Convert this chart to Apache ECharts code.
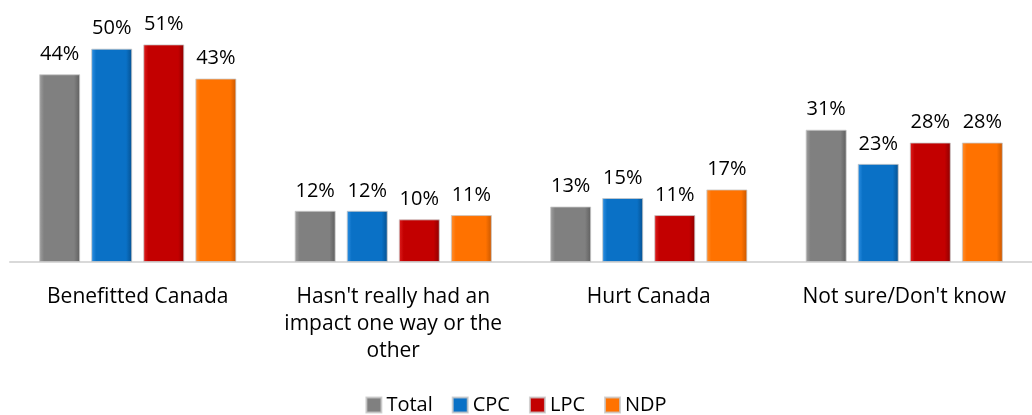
<!DOCTYPE html>
<html>
<head>
<meta charset="utf-8">
<script src="https://cdn.jsdelivr.net/npm/echarts@6/dist/echarts.min.js"></script>
<style>
  html, body { margin: 0; padding: 0; background: #fff; }
  #chart { width: 1032px; height: 415px; }
</style>
</head>
<body>
<div id="chart"></div>
<script>
// Survey responses by party
const categories = [
  'Benefitted Canada',
  "Hasn't really had an\nimpact one way or the\nother",
  'Hurt Canada',
  "Not sure/Don't know"
];
const seriesNames = ['Total', 'CPC', 'LPC', 'NDP'];
const totalValues = [44, 12, 13, 31];
const cpcValues = [50, 12, 15, 23];
const lpcValues = [51, 10, 11, 28];
const ndpValues = [43, 11, 17, 28];

const FONT = '"Open Sans", "Noto Sans", sans-serif';

// light / base / dark shades for a bevelled look
const palette = {
  Total: ['#a2a2a2', '#808080', '#5e5e5e'],
  CPC:   ['#2f92e6', '#0a71c6', '#05508f'],
  LPC:   ['#e02020', '#c30000', '#8c0000'],
  NDP:   ['#ff9133', '#ff7200', '#c85700']
};

function bevel(name) {
  const c = palette[name];
  return new echarts.graphic.LinearGradient(0, 0, 1, 0, [
    { offset: 0, color: c[0] },
    { offset: 0.12, color: c[1] },
    { offset: 0.85, color: c[1] },
    { offset: 1, color: c[2] }
  ]);
}

const valuesByName = { Total: totalValues, CPC: cpcValues, LPC: lpcValues, NDP: ndpValues };

const series = seriesNames.map(name => ({
  name: name,
  type: 'bar',
  data: valuesByName[name],
  barWidth: 41,
  barGap: '27%',
  itemStyle: {
    color: bevel(name),
    borderColor: 'rgba(200,200,200,0.8)',
    borderWidth: 1
  },
  label: {
    show: true,
    position: 'top',
    distance: 10,
    formatter: '{c}%',
    color: '#000',
    fontFamily: FONT,
    fontSize: 20
  }
}));

const chart = echarts.init(document.getElementById('chart'));
chart.setOption({
  animation: false,
  grid: { left: 10, right: 0, top: 6, bottom: 153, containLabel: false },
  legend: {
    data: seriesNames.map(n => ({ name: n, itemStyle: { color: bevel(n) } })),
    bottom: 0,
    padding: 0,
    left: 'center',
    itemWidth: 15,
    itemHeight: 15,
    itemGap: 19,
    icon: 'rect',
    textStyle: { fontFamily: FONT, fontSize: 20, color: '#000' }
  },
  xAxis: {
    type: 'category',
    data: categories,
    axisLine: { show: true, lineStyle: { color: '#d9d9d9', width: 2 } },
    axisTick: { show: false },
    axisLabel: {
      interval: 0,
      margin: 22,
      color: '#000',
      fontFamily: FONT,
      fontSize: 21,
      lineHeight: 27
    }
  },
  yAxis: {
    type: 'value',
    min: 0,
    max: 60,
    show: false,
    splitLine: { show: false }
  },
  series: series
});
</script>
</body>
</html>
